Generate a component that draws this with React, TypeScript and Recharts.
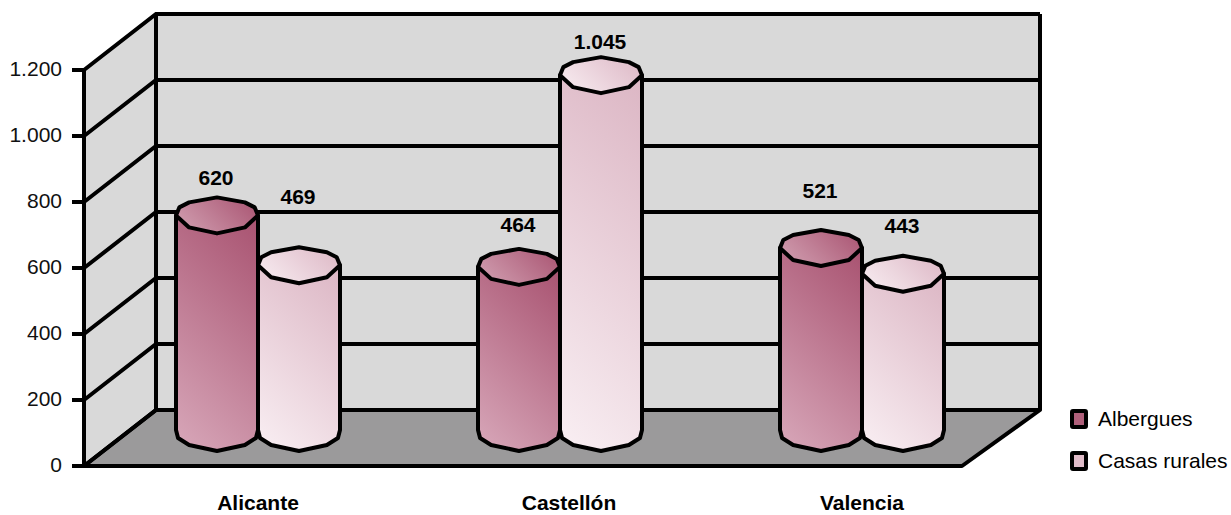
import React from 'react';
import { BarChart, Bar, XAxis, YAxis, CartesianGrid, LabelList, Legend } from 'recharts';

const categories = ['Alicante', 'Castellón', 'Valencia'];
const albergues = [620, 464, 521];
const casasRurales = [469, 1045, 443];
const yTicks = [0, 200, 400, 600, 800, 1000, 1200];
const seriesNames = ['Albergues', 'Casas rurales'];
const labelLiftAlbergues = [84, 88, 104];
const labelLiftCasas = [115, 80, 94];
const categoryLabelNudge = [0, 9, 0];

const rows = categories.map((name, i) => ({ name, albergues: albergues[i], casas: casasRurales[i] }));

const FONT = '"Liberation Sans", Arial, sans-serif';
const FONT_SIZE = 21;
const STROKE = 4;
const DEPTH_X = 72;
const DEPTH_Y = 56;
const FLOOR_TAPER = 78;
const CAP_LIFT = 46;
const BASE_LIFT = 33;

const fmt = (v: number) => String(v).replace(/\B(?=(\d{3})+(?!\d))/g, '.');

function GridLine(props: any) {
  const { x1, x2, y1, index, x, y, width, height } = props;
  const left = x ?? x1;
  const right = width != null ? left + width : x2;
  const top = y;
  const bottom = y + height;
  const backL = left + DEPTH_X;
  const backY = y1 - DEPTH_Y;
  return (
    <g>
      {index === 0 && (
        <g>
          <polygon
            points={`${left},${top} ${backL},${top - DEPTH_Y} ${right},${top - DEPTH_Y} ${right},${bottom - DEPTH_Y} ${backL},${bottom - DEPTH_Y} ${left},${bottom}`}
            fill="#d9d9d9"
          />
          <polygon
            points={`${left},${bottom} ${backL},${bottom - DEPTH_Y} ${right},${bottom - DEPTH_Y} ${right - FLOOR_TAPER},${bottom}`}
            fill="#9b9a9b"
            stroke="#000"
            strokeWidth={STROKE}
            strokeLinejoin="round"
          />
          <line x1={backL} x2={backL} y1={top - DEPTH_Y} y2={bottom - DEPTH_Y} stroke="#000" strokeWidth={STROKE} />
          <line x1={right} x2={right} y1={top - DEPTH_Y} y2={bottom - DEPTH_Y} stroke="#000" strokeWidth={STROKE} />
        </g>
      )}
      <polyline points={`${left},${y1} ${backL},${backY} ${right},${backY}`} fill="none" stroke="#000" strokeWidth={STROKE} />
    </g>
  );
}

function Diagonal({ id, x, y, w, h, from, to }: any) {
  // 45-degree gradient in page pixels, running from the lower left to the upper right.
  const d = (w + h) / 2;
  return (
    <linearGradient id={id} gradientUnits="userSpaceOnUse" x1={x} y1={y + h} x2={x + d} y2={y + h - d}>
      <stop offset="0%" stopColor={from} />
      <stop offset="100%" stopColor={to} />
    </linearGradient>
  );
}

function cylinder(key: string, bodyFrom: string, bodyTo: string, capFrom: string, capTo: string) {
  return function Cylinder(props: any) {
    const { x, y, width, height, index } = props;
    const cx = x + width / 2;
    const r = width / 2;
    const top = y - CAP_LIFT;
    const base = y + height - BASE_LIFT;
    const px = (f: number, dy: number) => `${cx + f * r},${top + dy}`;
    const cap = [
      px(-1, 0), px(-0.92, -8), px(-0.68, -13), px(0, -18), px(0.68, -13), px(0.92, -8), px(1, 0),
      px(0.68, 12), px(0, 18), px(-0.68, 12),
    ];
    const body =
      `M${cx - r},${top} L${cx - r},${base - 3} L${cx - 0.95 * r},${base + 5} L${cx - 0.68 * r},${base + 12} ` +
      `L${cx},${base + 18} L${cx + 0.68 * r},${base + 12} L${cx + 0.95 * r},${base + 5} L${cx + r},${base - 3} L${cx + r},${top} Z`;
    const bodyId = `${key}-body-${index}`;
    const capId = `${key}-cap-${index}`;
    return (
      <g>
        <defs>
          <Diagonal id={bodyId} x={cx - r} y={top} w={2 * r} h={base + 18 - top} from={bodyFrom} to={bodyTo} />
          <Diagonal id={capId} x={cx - r} y={top - 18} w={2 * r} h={36} from={capFrom} to={capTo} />
        </defs>
        <path d={body} fill={`url(#${bodyId})`} stroke="#000" strokeWidth={STROKE} strokeLinejoin="round" />
        <polygon points={cap.join(' ')} fill={`url(#${capId})`} stroke="#000" strokeWidth={STROKE} strokeLinejoin="round" />
      </g>
    );
  };
}

function valueLabel(lifts: number[]) {
  return function ValueLabel(props: any) {
    const { x, y, width, value, index } = props;
    return (
      <text
        x={x + width / 2 - 1}
        y={y - lifts[index]}
        textAnchor="middle"
        dominantBaseline="central"
        fontFamily={FONT}
        fontSize={FONT_SIZE}
        fontWeight="bold"
        fill="#000"
      >
        {fmt(value)}
      </text>
    );
  };
}

function CategoryTick(props: any) {
  const { x, y, payload, index } = props;
  return (
    <text x={x + categoryLabelNudge[index]} y={y + 38} textAnchor="middle" fontFamily={FONT} fontSize={FONT_SIZE} fontWeight="bold" fill="#000">
      {payload.value}
    </text>
  );
}

function LegendBox() {
  const swatches = ['#b0607b', '#e0bcc9'];
  return (
    <div style={{ fontFamily: FONT, fontSize: FONT_SIZE, color: '#000', lineHeight: '24px' }}>
      {seriesNames.map((name, i) => (
        <div key={name} style={{ display: 'flex', alignItems: 'center', height: 24, marginBottom: 18 }}>
          <span
            style={{
              display: 'inline-block', width: 10, height: 12, border: '4px solid #000',
              borderRadius: 3, background: swatches[i], marginRight: 10,
            }}
          />
          <span>{name}</span>
        </div>
      ))}
    </div>
  );
}

export default function App() {
  return (
    <div style={{ position: 'absolute', left: 0, top: 0, width: 1231, height: 515, background: '#fff' }}>
      <BarChart
        width={1231}
        height={515}
        data={rows}
        margin={{ top: 70, right: 191, bottom: 0, left: 0 }}
        barGap={0}
        barSize={82}
        style={{ overflow: 'visible' }}
      >
        <CartesianGrid horizontal={GridLine as any} vertical={false} />
        <XAxis
          dataKey="name"
          height={49}
          padding={{ left: 23, right: 27 }}
          axisLine={false}
          tickLine={false}
          tickMargin={0}
          tick={CategoryTick as any}
        />
        <YAxis
          width={84}
          domain={[0, 1200]}
          ticks={yTicks}
          tickFormatter={fmt}
          tickSize={12}
          tickMargin={10}
          interval={0}
          axisLine={{ stroke: '#000', strokeWidth: STROKE }}
          tickLine={{ stroke: '#000', strokeWidth: STROKE }}
          tick={{ fontFamily: FONT, fontSize: FONT_SIZE, fill: '#111', dy: -1 }}
        />
        <Bar dataKey="albergues" name={seriesNames[0]} isAnimationActive={false} fill="#b0607b" shape={cylinder('alb', '#d8a8ba', '#a85270', '#d3a3b4', '#a85270')}>
          <LabelList dataKey="albergues" content={valueLabel(labelLiftAlbergues)} />
        </Bar>
        <Bar dataKey="casas" name={seriesNames[1]} isAnimationActive={false} fill="#e0bcc9" shape={cylinder('cas', '#f9eff3', '#dcb6c4', '#f9eff3', '#dcb6c4')}>
          <LabelList dataKey="casas" content={valueLabel(labelLiftCasas)} />
        </Bar>
        <Legend
          layout="horizontal"
          verticalAlign="middle"
          align="center"
          content={LegendBox as any}
          wrapperStyle={{ position: 'absolute', left: 1070, top: 407, width: 161, bottom: 'auto', right: 'auto', margin: 0 }}
        />
      </BarChart>
    </div>
  );
}
